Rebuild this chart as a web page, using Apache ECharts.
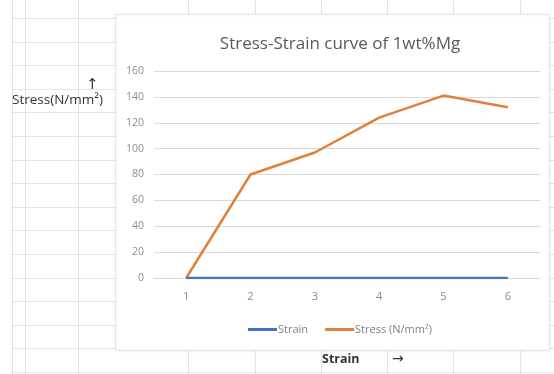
<!DOCTYPE html>
<html><head><meta charset="utf-8">
<script src="https://cdn.jsdelivr.net/npm/echarts@6/dist/echarts.min.js"></script>
<style>html,body{margin:0;padding:0;background:#fff}#c{width:554px;height:374px}</style>
</head><body><div id="c"></div>
<script>
const categories = ['1','2','3','4','5','6'];
const strainValues = [0, 0, 0, 0, 0, 0];
const stressValues = [0, 80, 97, 124, 141, 132];
const yTicks = [0, 20, 40, 60, 80, 100, 120, 140, 160];

const chart = echarts.init(document.getElementById('c'));
const g = [];
// spreadsheet background grid (decoration)
for (let y = 18; y < 374; y += 23.6) {
  g.push({type:'line', z:-20, shape:{x1:12,y1:Math.round(y)+0.5,x2:554,y2:Math.round(y)+0.5}, style:{stroke:'#e3e3e3',lineWidth:1}});
}
[12, 25, 78, 188, 255, 321, 387, 453, 520].forEach(x => {
  g.push({type:'line', z:-20, shape:{x1:x+0.5,y1:0,x2:x+0.5,y2:374}, style:{stroke:'#e3e3e3',lineWidth:1}});
});
// chart panel
g.push({type:'rect', z:-10, shape:{x:115.5,y:14.5,width:434,height:336}, style:{fill:'#fff',stroke:'#e6e6e6',lineWidth:1, shadowBlur:3, shadowColor:'rgba(0,0,0,0.08)'}});
// cell texts
g.push({type:'text', z:5, left:86, top:78, style:{text:'↑', font:'15px "DejaVu Sans"', fill:'#333'}});
g.push({type:'text', z:5, left:12, top:93, style:{text:'Stress(N/mm²)', font:'13.5px "Open Sans"', fill:'#333'}});
g.push({type:'text', z:5, left:322, top:353, style:{text:'Strain', font:'bold 12.5px "Open Sans"', fill:'#333'}});
g.push({type:'text', z:5, left:392, top:352, style:{text:'→', font:'14px "DejaVu Sans"', fill:'#333'}});

chart.setOption({
  animation:false,
  title:{text:'Stress-Strain curve of 1wt%Mg', left:335, top:31, textAlign:'center',
    textStyle:{fontFamily:'Open Sans', fontWeight:'normal', fontSize:17, color:'#595959'}},
  legend:{data:['Strain','Stress (N/mm²)'], left:243, top:319, icon:'rect', itemWidth:29, itemHeight:3, itemGap:17,
    textStyle:{fontFamily:'Open Sans', fontSize:11, color:'#7f7f7f', padding:[0,0,0,-4]}},
  grid:{left:154, right:14, top:71, bottom:96},
  xAxis:{type:'category', data:categories, boundaryGap:true,
    axisLine:{lineStyle:{color:'#d9d9d9'}}, axisTick:{show:false},
    axisLabel:{color:'#8c8c8c', fontSize:11, margin:13, fontFamily:'Open Sans'}},
  yAxis:{type:'value', min:yTicks[0], max:yTicks[yTicks.length-1], interval:20,
    axisLine:{show:false}, axisTick:{show:false},
    axisLabel:{color:'#8c8c8c', fontSize:10.5, margin:10, fontFamily:'Open Sans'},
    splitLine:{lineStyle:{color:'#d9d9d9'}}},
  series:[
    {name:'Strain', type:'line', data:strainValues, symbol:'none', lineStyle:{color:'#4472C4', width:2.5}, itemStyle:{color:'#4472C4'}, z:3},
    {name:'Stress (N/mm²)', type:'line', data:stressValues, symbol:'none', lineStyle:{color:'#E0803A', width:2.5}, itemStyle:{color:'#E0803A'}, z:2}
  ],
  graphic:g
});
</script></body></html>
